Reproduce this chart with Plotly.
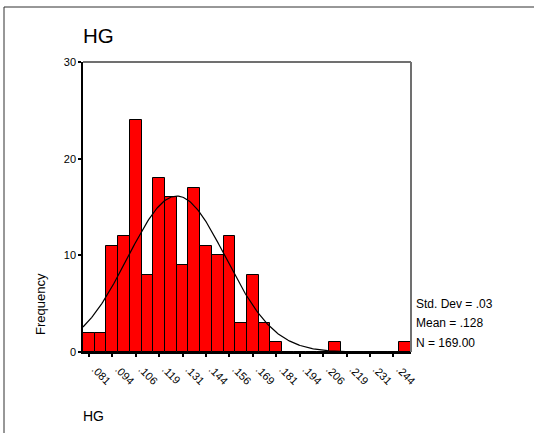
import numpy as np
import plotly.graph_objects as go

# ---- data ----
tick_labels = [".081", ".094", ".106", ".119", ".131", ".144", ".156",
               ".169", ".181", ".194", ".206", ".219", ".231", ".244"]
counts = [2, 2, 11, 12, 24, 8, 18, 16, 9, 17, 11, 10, 12, 3,
          8, 3, 1, 0, 0, 0, 0, 1, 0, 0, 0, 0, 0, 1]
first_center = 0.081
last_labeled_center = 0.244
mean_val = 0.128
sd_val = 0.0262
n_val = 169
stats_lines = ["Std. Dev = .03", "Mean = .128", "N = 169.00"]
title_text = "HG"
xlabel_text = "HG"
ylabel_text = "Frequency"

# ---- derived ----
nb = len(counts)
binw = (last_labeled_center - first_center) / 26.0
centers = first_center + binw * np.arange(nb)
x_lo = centers[0] - binw / 2
x_hi = centers[-1] + binw / 2
tick_vals = [first_center + 2 * binw * k for k in range(len(tick_labels))]

xc = np.linspace(x_lo, x_hi, 300)
yc = n_val * binw / (sd_val * np.sqrt(2 * np.pi)) * np.exp(-0.5 * ((xc - mean_val) / sd_val) ** 2)

W, H = 534, 433
ML, MR, MT, MB = 83, 123, 62, 81
pw = W - ML - MR
ph = H - MT - MB

def px(xpix):
    return (xpix - ML) / pw

def py(ypix):
    return (H - MB - ypix) / ph

fig = go.Figure()
fig.add_trace(go.Bar(x=centers, y=counts, width=binw,
                     marker=dict(color="#ff0000", line=dict(color="black", width=1)),
                     showlegend=False, hoverinfo="skip"))
fig.add_trace(go.Scatter(x=xc, y=yc, mode="lines",
                         line=dict(color="black", width=1.2),
                         showlegend=False, hoverinfo="skip"))

font = "Liberation Sans, Arial, sans-serif"
fig.update_layout(
    width=W, height=H,
    margin=dict(l=ML, r=MR, t=MT, b=MB, pad=0),
    paper_bgcolor="white", plot_bgcolor="white",
    font=dict(family=font, size=11, color="black"),
    bargap=0,
    xaxis=dict(range=[x_lo, x_hi], tickvals=tick_vals, ticktext=tick_labels,
               tickangle=45, showgrid=False, zeroline=False,
               showline=True, linecolor="black", linewidth=1.5,
               ticks="outside", ticklen=3, tickwidth=2, tickcolor="black",
               ticklabelshift=6, ticklabelstandoff=2,
               tickfont=dict(size=11, family=font)),
    yaxis=dict(range=[0, 30], tickvals=[0, 10, 20, 30], showgrid=False, zeroline=False,
               showline=True, linecolor="black", linewidth=1.5,
               ticks="outside", ticklen=3, tickwidth=2, tickcolor="black",
               tickfont=dict(size=11, family=font)),
)

shapes = [
    # plot frame top and right
    dict(type="line", xref="paper", yref="paper", x0=0, x1=1, y0=1, y1=1,
         line=dict(color="#404040", width=1.3)),
    dict(type="line", xref="paper", yref="paper", x0=1, x1=1, y0=0, y1=1,
         line=dict(color="#707070", width=2)),
    # outer frame (left + top)
    dict(type="line", xref="paper", yref="paper", x0=px(4), x1=px(4), y0=py(H + 5), y1=py(7),
         line=dict(color="#303030", width=1)),
    dict(type="line", xref="paper", yref="paper", x0=px(4), x1=px(W + 5), y0=py(7), y1=py(7),
         line=dict(color="#303030", width=1)),
]
fig.update_layout(shapes=shapes)

ann = [
    dict(text=title_text, x=px(81), y=py(35.5), xanchor="left", yanchor="middle",
         font=dict(size=20.5, family=font)),
    dict(text=xlabel_text, x=px(81), y=py(416), xanchor="left", yanchor="middle",
         font=dict(size=14, family=font)),
    dict(text=ylabel_text, x=px(40), y=py(304), xanchor="center", yanchor="middle",
         textangle=-90, font=dict(size=13, family=font)),
]
for i, s in enumerate(stats_lines):
    ann.append(dict(text=s, x=px(414), y=py(303.5 + 19.7 * i), xanchor="left", yanchor="middle",
                    font=dict(size=12, family=font)))
for a in ann:
    a.update(xref="paper", yref="paper", showarrow=False)
fig.update_layout(annotations=ann)

fig.write_html("out.html", config={"displayModeBar": False},
               post_script="document.body.style.margin='0';document.body.style.overflow='hidden';")
